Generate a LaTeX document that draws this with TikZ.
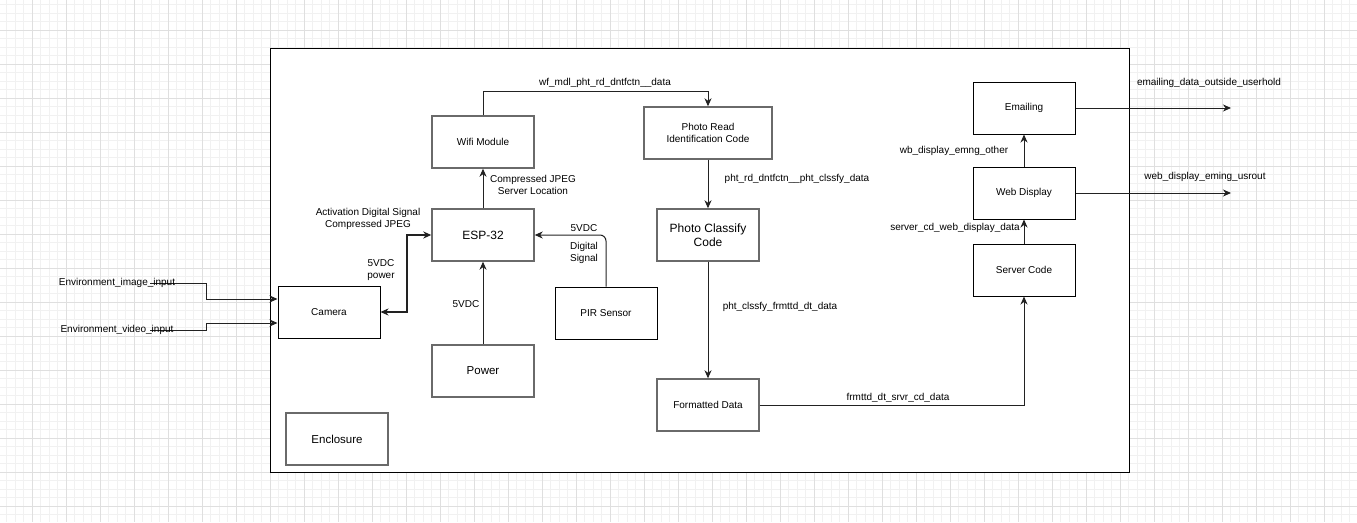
\documentclass[tikz,border=0pt]{standalone}
\usepackage{fontspec}
\setmainfont{Liberation Sans}
\usetikzlibrary{arrows.meta}
\definecolor{minorc}{HTML}{F1F1F1}
\definecolor{majorc}{HTML}{DFDFDF}
\definecolor{gbord}{HTML}{6A6A6A}
\definecolor{edgec}{HTML}{222222}
\tikzset{
  box/.style={draw=black, line width=1pt, fill=white, rectangle, inner sep=0pt, align=center, font=\fontsize{10}{12}\selectfont},
  gbox/.style={box, draw=gbord, line width=1.4pt},
  lbl/.style={inner sep=0pt, align=center, font=\fontsize{10}{12}\selectfont},
  arr/.style={draw=edgec, line width=1pt, -{Stealth[length=8pt,width=7pt,inset=2.5pt]}},
}
\begin{document}
\begin{tikzpicture}[x=1pt,y=-1pt]
\useasboundingbox (0,0) rectangle (1357,522);
\fill[white] (0,0) rectangle (1357,522);
% grid
\foreach \i in {0,...,160} {
  \draw[minorc, line width=0.7pt] ({32-34+\i*8.5},0) -- ({32-34+\i*8.5},522);
}
\foreach \i in {0,...,62} {
  \draw[minorc, line width=0.7pt] (0,{30-34+\i*8.5}) -- (1357,{30-34+\i*8.5});
}
\foreach \i in {0,...,40} {
  \draw[majorc, line width=0.9pt] ({32-34+\i*34},0) -- ({32-34+\i*34},522);
}
\foreach \i in {0,...,16} {
  \draw[majorc, line width=0.9pt] (0,{30-34+\i*34}) -- (1357,{30-34+\i*34});
}
% enclosure
\draw[black, line width=1pt, fill=white] (270,48) rectangle (1129,472);

% boxes
\node[box, minimum width=102pt, minimum height=52pt] (camera) at (329,312) {Camera};
\node[gbox, minimum width=102pt, minimum height=52pt, font=\fontsize{12}{14}\selectfont] (esp) at (483,235) {ESP-32};
\node[gbox, minimum width=102pt, minimum height=52pt] (wifi) at (483,142) {Wifi Module};
\node[gbox, minimum width=102pt, minimum height=52pt, font=\fontsize{11.5}{14}\selectfont] (power) at (483,371) {Power};
\node[box, minimum width=102pt, minimum height=52pt] (pir) at (606,313) {PIR Sensor};
\node[gbox, minimum width=102pt, minimum height=52pt, font=\fontsize{11.5}{14}\selectfont] (encbox) at (337,439) {Enclosure};
\node[gbox, minimum width=128pt, minimum height=52pt] (photoread) at (708,133) {Photo Read\\Identification Code};
\node[gbox, minimum width=102pt, minimum height=52pt, font=\fontsize{12}{14}\selectfont] (classify) at (708,235) {Photo Classify\\Code};
\node[gbox, minimum width=102pt, minimum height=52pt] (formatted) at (708,405) {Formatted Data};
\node[box, minimum width=102pt, minimum height=52pt] (emailing) at (1024,108) {Emailing};
\node[box, minimum width=102pt, minimum height=52pt] (web) at (1024,193) {Web Display};
\node[box, minimum width=102pt, minimum height=52pt] (server) at (1024,270) {Server Code};

% inputs
\coordinate (imgsrc) at (150,283);
\coordinate (vidsrc) at (150,330);
\draw[arr] (imgsrc) -- (206,283) -- (206,299) -- (camera.west |- 206,299);
\draw[arr] (vidsrc) -- (206,330) -- (206,323) -- (camera.west |- 206,323);
\node[lbl] (imglbl) at (117,283) {Environment\_image\_input};
\node[lbl] (vidlbl) at (117,330) {Environment\_video\_input};

% camera <-> esp
\draw[draw=edgec, line width=1.6pt, {Stealth[length=8pt,width=7pt,inset=2.5pt]}-{Stealth[length=8pt,width=7pt,inset=2.5pt]}] (camera.east) -- (407,312) -- (407,235) -- (esp.west);
\node[lbl] (actlbl) at (368,218.5) {Activation Digital Signal\\Compressed JPEG};
\node[lbl] (pwrlbl) at (381,270) {5VDC\\power};

% esp -> wifi
\draw[arr] (esp.north) -- (wifi.south);
\node[lbl] (jpeglbl) at (533,185) {Compressed JPEG\\Server Location};

% power -> esp
\draw[arr] (power.north) -- (esp.south);
\node[lbl] (v5lbl) at (466,304) {5VDC};

% pir -> esp
\draw[arr, rounded corners=6pt] (pir.north) |- (esp.east);
\node[lbl] (pirv) at (584,228) {5VDC};
\node[lbl] (pirsig) at (584,253) {Digital\\Signal};

% wifi -> photo read
\draw[arr] (wifi.north) -- (483,91) -| (photoread.north);
\node[lbl] (wflbl) at (605,83) {wf\_mdl\_pht\_rd\_dntfctn\_\_data};

% photo read -> classify
\draw[arr] (photoread.south) -- (classify.north);
\node[lbl] (prlbl) at (797,179) {pht\_rd\_dntfctn\_\_pht\_clssfy\_data};

% classify -> formatted
\draw[arr] (classify.south) -- (formatted.north);
\node[lbl] (cllbl) at (780,307) {pht\_clssfy\_frmttd\_dt\_data};

% formatted -> server
\draw[arr] (formatted.east) -| (server.south);
\node[lbl] (fdlbl) at (898,398) {frmttd\_dt\_srvr\_cd\_data};

% server -> web
\draw[arr] (server.north) -- (web.south);
\node[lbl, anchor=east] (svlbl) at (1020,228) {server\_cd\_web\_display\_data};

% web -> emailing
\draw[arr] (web.north) -- (emailing.south);
\node[lbl] (wblbl) at (954,151) {wb\_display\_emng\_other};

% outputs
\coordinate (out1) at (1231,108);
\coordinate (out2) at (1231,193);
\draw[arr] (emailing.east) -- (out1);
\draw[arr] (web.east) -- (out2);
\node[lbl] (emlbl) at (1209,83) {emailing\_data\_outside\_userhold};
\node[lbl] (wdlbl) at (1205,177) {web\_display\_eming\_usrout};
\end{tikzpicture}
\end{document}
